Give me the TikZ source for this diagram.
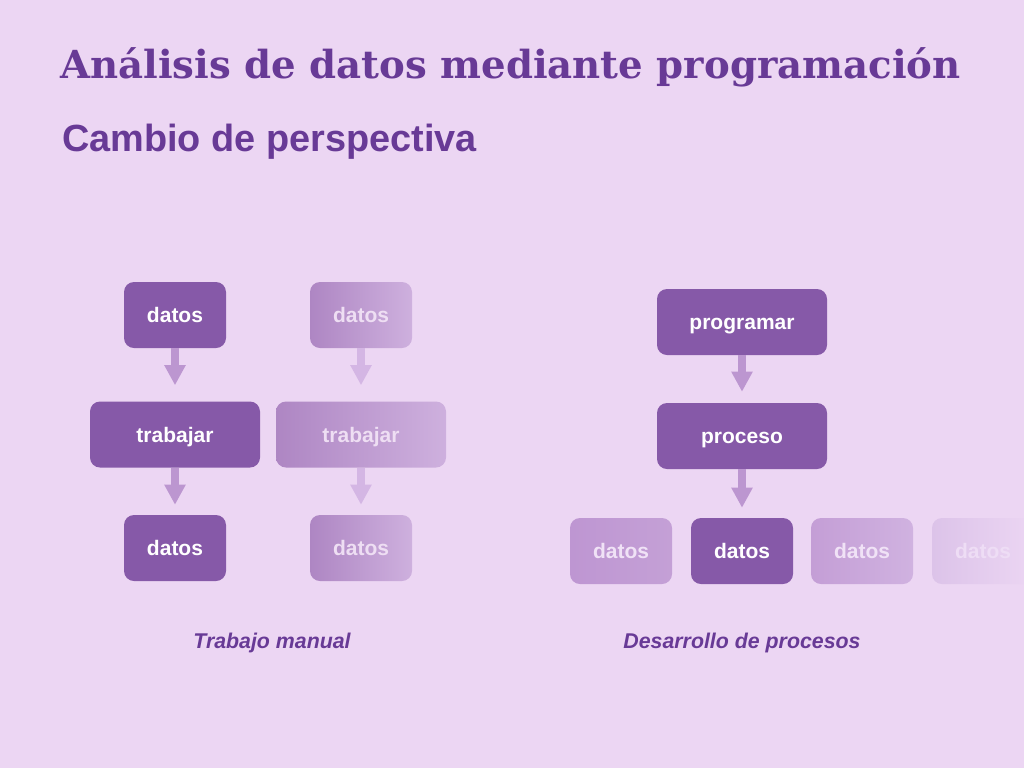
\documentclass[tikz,border=0pt]{standalone}
\usepackage{fontspec}
\setmainfont{Liberation Sans}
\newfontfamily\titlefont{DejaVu Serif}
\usetikzlibrary{arrows.meta}
\definecolor{bg}{RGB}{236,214,243}
\definecolor{boxdark}{RGB}{134,89,168}
\definecolor{titlecol}{RGB}{104,58,150}
\definecolor{arrcol}{RGB}{188,150,208}
\definecolor{arrfade}{RGB}{212,182,228}
\definecolor{fadeL}{RGB}{174,134,195}
\definecolor{fadeR}{RGB}{206,176,222}
\definecolor{fadetext}{RGB}{238,222,243}
\definecolor{rowA}{RGB}{190,150,210}
\definecolor{rowAr}{RGB}{196,160,214}
\definecolor{rowBl}{RGB}{196,158,214}
\definecolor{rowBr}{RGB}{208,178,224}
\definecolor{rowCl}{RGB}{220,195,233}
\definecolor{rowCr}{RGB}{236,214,243}
\definecolor{rowtext}{RGB}{240,226,246}
\tikzset{
  box/.style={rounded corners=7.5pt, minimum height=49.5pt, inner sep=0pt,
    text height=11.3pt, text depth=0pt,
    text=white, font=\bfseries\fontsize{15.75}{18}\selectfont},
  sbox/.style={box, minimum width=76.5pt},
  wbox/.style={box, minimum width=127.5pt},
  darkfill/.style={fill=boxdark},
  arr/.style={draw=arrcol, line width=5.5pt, -{Triangle[width=15pt,length=15pt]}},
  arrf/.style={arr, draw=arrfade},
  caption/.style={text=titlecol, font=\bfseries\itshape\fontsize{16}{19}\selectfont}
}
\begin{document}
\begin{tikzpicture}[x=0.75pt,y=-0.75pt]
\fill[bg] (0,0) rectangle (1024,768);
\useasboundingbox (0,0) rectangle (1024,768);
\clip (0,0) rectangle (1024,768);

\node[anchor=base west, text=titlecol, inner sep=0pt,
  font=\titlefont\bfseries\fontsize{29}{35}\selectfont] (title) at (60,78)
  {Análisis de datos mediante programación};
\node[anchor=base west, text=titlecol, inner sep=0pt,
  font=\bfseries\fontsize{28.4}{34}\selectfont] (sub) at (62,151)
  {Cambio de perspectiva};

% left: manual work
\node[sbox, darkfill] (d1) at (175,315) {datos};
\node[wbox, darkfill] (t1) at (175,434.5) {trabajar};
\node[sbox, darkfill] (d2) at (175,548) {datos};
\draw[arr, shorten >=12pt] (d1) -- (t1);
\draw[arr, shorten >=7.5pt] (t1) -- (d2);

\node[sbox, left color=fadeL, right color=fadeR, text=fadetext] (fd1) at (361,315) {datos};
\node[wbox, left color=fadeL, right color=fadeR, text=fadetext] (ft1) at (361,434.5) {trabajar};
\node[sbox, left color=fadeL, right color=fadeR, text=fadetext] (fd2) at (361,548) {datos};
\draw[arrf, shorten >=12pt] (fd1) -- (ft1);
\draw[arrf, shorten >=7.5pt] (ft1) -- (fd2);

% right: process development
\node[wbox, darkfill] (p) at (742,322) {programar};
\node[wbox, darkfill] (pr) at (742,436) {proceso};
\node[sbox, darkfill] (r2) at (742,551) {datos};
\node[sbox, left color=rowA, right color=rowAr, text=rowtext] (r1) at (621,551) {datos};
\node[sbox, left color=rowBl, right color=rowBr, text=rowtext] (r3) at (862,551) {datos};
\node[sbox, left color=rowCl, right color=rowCr, text=rowtext!60!bg] (r4) at (983,551) {datos};
\draw[arr, shorten >=8.25pt] (p) -- (pr);
\draw[arr, shorten >=7.5pt] (pr) -- (r2);

\node[caption] (c1) at (272,643) {Trabajo manual};
\node[caption] (c2) at (742,643) {Desarrollo de procesos};
\end{tikzpicture}
\end{document}
